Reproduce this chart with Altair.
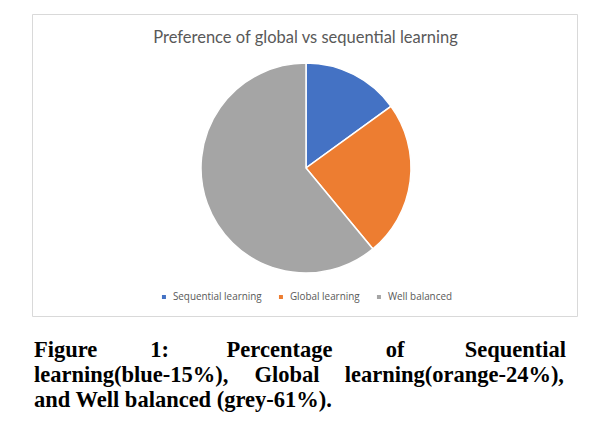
import altair as alt
import pandas as pd

# ---- data ----
categories = ["Sequential learning", "Global learning", "Well balanced"]
percentages = [15, 24, 61]
colors = ["#4472C4", "#ED7D31", "#A5A5A5"]

chart_title = "Preference of global vs sequential learning"

caption_line1 = ["Figure", "1:", "Percentage", "of", "Sequential"]
caption_line2 = ["learning(blue-15%),", "Global", "learning(orange-24%),"]
caption_line3 = ["and Well balanced (grey-61%)."]

df = pd.DataFrame({"category": categories, "value": percentages,
                   "idx": list(range(len(categories)))})

# ---- layout (page px -> chart px, page margin 8) ----
OFF = 8
W, H = 591, 409
one = pd.DataFrame({"a": [0]})

frame = alt.Chart(one).mark_rect(fill="white", stroke="#d9d9d9", strokeWidth=1).encode(
    x=alt.value(32.5 - OFF), x2=alt.value(577.5 - OFF),
    y=alt.value(14.5 - OFF), y2=alt.value(316.5 - OFF))

title = alt.Chart(one).mark_text(
    text=chart_title, font="Lato", fontSize=16.5, color="#595959",
    align="center", baseline="alphabetic").encode(
    x=alt.value(305.5 - OFF), y=alt.value(42.5 - OFF))

pie = alt.Chart(df).mark_arc(radius=105, stroke="white", strokeWidth=1.5).encode(
    theta=alt.Theta("value:Q", stack=True),
    order=alt.Order("idx:Q"),
    color=alt.Color("category:N",
                    scale=alt.Scale(domain=categories, range=colors),
                    sort=categories,
                    legend=alt.Legend(
                        orient="none", legendX=159 - OFF, legendY=292 - OFF,
                        direction="horizontal", title=None,
                        symbolType="square", symbolSize=16, symbolStrokeWidth=0,
                        labelFont="Open Sans", labelFontSize=9.9, labelColor="#595959",
                        labelOffset=4, columnPadding=14)),
    x=alt.value(306 - OFF), y=alt.value(168 - OFF),
    tooltip=["category:N", "value:Q"])

LEFT, RIGHT = 34, 566
def word_layer(word, xpos, ypos, align):
    return alt.Chart(one).mark_text(
        text=word, font="Liberation Serif", fontWeight="bold", fontSize=22.5,
        color="#000000", align=align, baseline="alphabetic").encode(
        x=alt.value(xpos - OFF), y=alt.value(ypos - OFF))

line1_x = [LEFT, 159.6, 279.5, 395, RIGHT]
line2_x = [LEFT, 287, RIGHT - 2]
caption = []
for i, w in enumerate(caption_line1):
    al = "left" if i == 0 else ("right" if i == len(caption_line1) - 1 else "center")
    caption.append(word_layer(w, line1_x[i], 356.7, al))
for i, w in enumerate(caption_line2):
    al = "left" if i == 0 else ("right" if i == len(caption_line2) - 1 else "center")
    caption.append(word_layer(w, line2_x[i], 381.7, al))
caption.append(word_layer(caption_line3[0], LEFT, 406.7, "left"))

chart = alt.layer(frame, title, pie, *caption).properties(
    width=W, height=H, padding=0,
    autosize=alt.AutoSizeParams(type="none")
).configure_view(stroke=None)

chart.save("out.html", embed_options={"renderer": "svg", "actions": False})
